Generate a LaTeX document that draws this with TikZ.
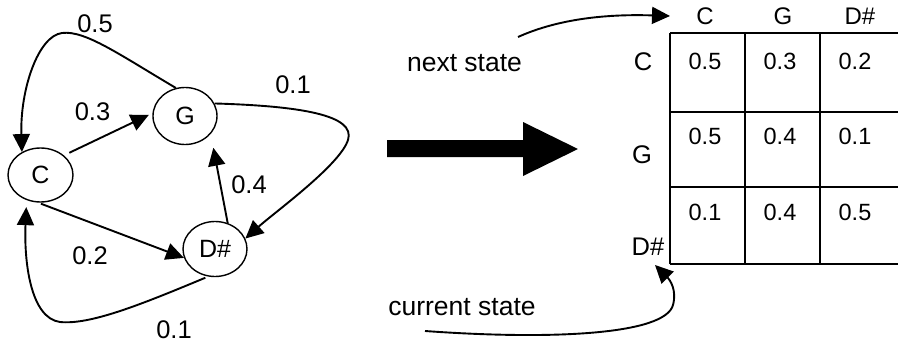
\documentclass[tikz,border=0pt]{standalone}
\usepackage{fontspec}
\setmainfont{Liberation Sans}
\usetikzlibrary{shapes.geometric,arrows.meta}
\begin{document}
\begin{tikzpicture}[x=1pt,y=-1pt,
  state/.style={ellipse,draw,line width=1.4pt,inner sep=0pt,
    font=\fontsize{25}{29}\selectfont},
  lbl/.style={inner sep=0pt,font=\fontsize{25.5}{29}\selectfont},
  cell/.style={inner sep=0pt,font=\fontsize{23.5}{27}\selectfont},
  hdr/.style={inner sep=0pt,font=\fontsize{24}{28}\selectfont},
  edge/.style={line width=1.9pt,-{Triangle[length=18pt,width=17pt]}},
  grid/.style={line width=1.9pt}]
\useasboundingbox (0,0) rectangle (898,343);

% states of the chain
\node[state,minimum width=65pt,minimum height=54pt] (C) at (40.5,175) {C};
\node[state,minimum width=64pt,minimum height=57pt] (G) at (185,116) {G};
\node[state,minimum width=64pt,minimum height=55pt] (D) at (215,249) {D\#};

% transitions
\draw[edge,shorten <=6pt,shorten >=4pt] (C.40) -- (G.175);
\draw[edge,shorten <=3pt] (C.-95) -- (D.196);
\draw[edge,shorten >=14pt] (D.64) -- (G.-35);
\draw[edge] (G.108) .. controls (120,55) and (85,30) .. (62,33)
  .. controls (38,36) and (20,90) .. (C.129);
\draw[edge] (G.23) .. controls (300,106) and (356,115) .. (348,140)
  .. controls (340,165) and (275,212) .. (D.19);
\draw[edge,shorten <=3pt,shorten >=7pt] (D.-104) .. controls (140,305) and (90,325) .. (60,322)
  .. controls (30,318) and (24,260) .. (C.-119);

% transition probabilities
\node[lbl] (p1) at (95,23.5) {0.5};
\node[lbl] (p2) at (293,85) {0.1};
\node[lbl] (p3) at (92.5,111.5) {0.3};
\node[lbl] (p4) at (249,185) {0.4};
\node[lbl] (p5) at (90,256) {0.2};
\node[lbl] (p6) at (174,330) {0.1};

% big arrow
\fill (387,140) -- (523,140) -- (523,122) -- (578,149) -- (523,176)
  -- (523,157) -- (387,157) -- cycle;

% transition matrix
\foreach \y in {33,112,187,264} \draw[grid] (670,\y) -- (898,\y);
\foreach \x in {670,745,820} \draw[grid] (\x,33) -- (\x,264);

\node[hdr] (hc) at (705,16.7) {C};
\node[hdr] (hg) at (783,16.7) {G};
\node[hdr] (hd) at (860,16.7) {D\#};
\node[lbl] (rc) at (643,62) {C};
\node[lbl] (rg) at (642,155) {G};
\node[lbl] (rd) at (648,247) {D\#};

\node[cell] at (705,61) {0.5};
\node[cell] at (780,61) {0.3};
\node[cell] at (855,61) {0.2};
\node[cell] at (705,136) {0.5};
\node[cell] at (780,136) {0.4};
\node[cell] at (855,136) {0.1};
\node[cell] at (705,212) {0.1};
\node[cell] at (780,212) {0.4};
\node[cell] at (855,212) {0.5};

% axis captions
\node[lbl,font=\fontsize{26.5}{30}\selectfont] (next) at (464.5,63) {next state};
\node[lbl,font=\fontsize{26.5}{30}\selectfont] (cur) at (462,307) {current state};
\coordinate (nsA) at (518,37);
\coordinate (nsB) at (670,16);
\coordinate (csA) at (425,331);
\coordinate (csB) at (655,265);
\draw[edge] (nsA) .. controls (560,18) and (610,14) .. (nsB);
\draw[edge] (csA) .. controls (550,340) and (665,335) .. (673,305)
  .. controls (677,290) and (670,280) .. (csB);
\end{tikzpicture}
\end{document}
